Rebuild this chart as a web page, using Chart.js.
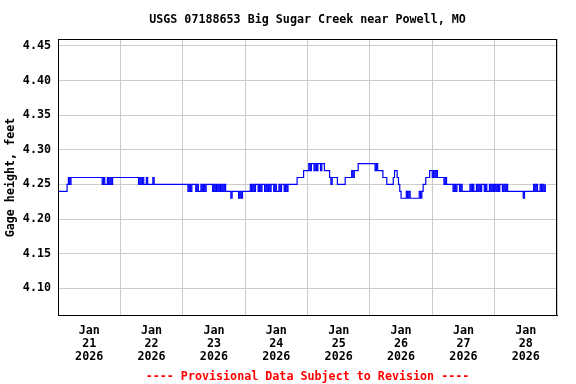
<!DOCTYPE html>
<html>
<head>
<meta charset="utf-8">
<script src="https://cdn.jsdelivr.net/npm/chart.js@4/dist/chart.umd.min.js"></script>
<style>
  body { margin: 0; background: #fff; }
  #wrap { width: 576px; height: 384px; }
</style>
</head>
<body>
<div id="wrap"><canvas id="chart1"></canvas></div>
<script>
// Gage height, feet, every 30 minutes from Jan 21 00:00 (one array per day)
const jan21 = [4.24,4.24,4.24,4.24,4.24,4.24,4.24,4.25,4.26,4.25,
  4.26,4.26,4.26,4.26,4.26,4.26,4.26,4.26,4.26,4.26,4.26,4.26,4.26,4.26,4.26,4.26,4.26,4.26,4.26,4.26,4.26,4.26,4.26,4.26,
  4.25,4.26,4.25,4.25,4.26,4.25,4.26,4.25,
  4.26,4.26,4.26,4.26,4.26,4.26];
const jan22 = [4.26,4.26,4.26,4.26,4.26,4.26,4.26,4.26,4.26,4.26,4.26,4.26,4.26,4.26,
  4.25,4.26,4.25,4.26,4.25,4.25,4.26,4.25,
  4.25,4.25,4.25,4.26,
  4.25,4.25,4.25,4.25,4.25,4.25,4.25,4.25,4.25,4.25,4.25,4.25,4.25,4.25,4.25,4.25,4.25,4.25,4.25,4.25,4.25,4.25];
const jan23 = [4.25,4.25,4.25,4.25,
  4.24,4.25,4.24,4.25,4.25,4.25,4.24,4.25,4.24,4.24,4.25,4.24,4.25,4.24,4.25,4.25,4.25,4.25,4.25,4.24,4.25,4.24,4.25,4.24,4.25,4.24,4.25,4.24,4.25,
  4.24,4.24,4.24,4.24,4.23,4.24,4.24,4.24,4.24,4.24,4.23,4.24,4.23,4.24,4.24];
const jan24 = [4.24,4.24,4.24,4.24,
  4.25,4.24,4.25,4.24,4.25,4.25,4.24,4.25,4.24,4.25,4.25,4.24,4.25,4.24,4.25,4.24,4.25,4.25,4.24,4.25,4.24,4.24,4.25,4.24,4.25,4.25,4.24,4.25,4.24,
  4.25,4.25,4.25,4.25,4.25,4.25,4.25,
  4.26,4.26,4.26,4.26,4.26,
  4.27,4.27,4.27];
const jan25 = [4.27,4.28,4.27,4.28,4.28,4.27,4.28,4.27,4.28,4.28,4.27,4.28,4.28,
  4.27,4.27,4.27,4.27,4.26,4.25,4.26,4.26,4.26,4.26,
  4.25,4.25,4.25,4.25,4.25,4.25,
  4.26,4.26,4.26,4.26,4.26,
  4.27,4.26,4.27,4.27,4.27,
  4.28,4.28,4.28,4.28,4.28,4.28,4.28,4.28,4.28];
const jan26 = [4.28,4.28,4.28,4.28,4.27,4.28,4.27,4.27,4.27,4.27,
  4.26,4.26,4.26,4.25,4.25,4.25,4.25,4.25,
  4.26,4.27,4.27,4.26,4.25,4.24,
  4.23,4.23,4.23,4.23,4.24,4.23,4.24,
  4.23,4.23,4.23,4.23,4.23,4.23,4.23,
  4.24,4.23,4.24,4.25,4.25,4.26,4.26,4.26,4.27,4.27];
const jan27 = [4.26,4.27,4.26,4.27,
  4.26,4.26,4.26,4.26,4.26,
  4.25,4.26,4.25,4.25,4.25,4.25,4.25,
  4.24,4.25,4.24,4.25,4.25,4.24,4.25,
  4.24,4.24,4.24,4.24,4.24,4.24,
  4.25,4.24,4.25,4.24,4.24,4.25,4.24,4.25,4.24,4.25,4.25,4.24,4.25,4.24,4.24,4.25,4.24,4.25,4.24];
const jan28 = [4.25,4.24,4.25,4.24,4.25,4.25,4.24,4.25,4.24,4.25,4.24,
  4.24,4.24,4.24,4.24,4.24,4.24,4.24,4.24,4.24,4.24,4.24,
  4.23,
  4.24,4.24,4.24,4.24,4.24,4.24,4.24,
  4.25,4.24,4.25,4.24,4.24,4.25,4.24,4.25,4.24,4.25];

const days = [jan21, jan22, jan23, jan24, jan25, jan26, jan27, jan28];
const dayLabels = ['21', '22', '23', '24', '25', '26', '27', '28'];
const monthLabel = 'Jan';
const yearLabel = '2026';
const yTicks = [4.10, 4.15, 4.20, 4.25, 4.30, 4.35, 4.40, 4.45];

// x = hours since Jan 21 00:00
const points = [];
days.forEach(function (vals, d) {
  vals.forEach(function (v, i) {
    points.push({ x: d * 24 + i * 0.5, y: v });
  });
});

const xTicks = [];
for (let h = 0; h <= 192; h += 12) xTicks.push(h);

const monoFont = { family: "'DejaVu Sans Mono', monospace", size: 11.7, weight: 'bold' };

// full black frame around the plot
const frame = {
  id: 'frame',
  afterDatasetsDraw: function (chart) {
    const a = chart.chartArea;
    const c = chart.ctx;
    c.save();
    c.strokeStyle = '#000';
    c.lineWidth = 1;
    c.strokeRect(Math.round(a.left) + 0.5, Math.round(a.top) + 0.5,
      Math.round(a.right - a.left) - 1, Math.round(a.bottom - a.top) - 1);
    c.restore();
  }
};

const config1 = {
  type: 'line',
  data: {
    datasets: [{
      data: points,
      borderColor: '#0000ff',
      borderWidth: 1.2,
      stepped: true,
      pointRadius: 0,
      fill: false
    }]
  },
  options: {
    responsive: true,
    maintainAspectRatio: false,
    animation: false,
    color: '#000',
    layout: { padding: { top: 0, right: 19, bottom: 0, left: 0 } },
    plugins: {
      legend: { display: false },
      tooltip: { enabled: false },
      title: {
        display: true,
        text: 'USGS 07188653 Big Sugar Creek near Powell, MO',
        color: '#000',
        font: monoFont,
        fullSize: false,
        padding: { top: 13, bottom: 12 }
      },
      subtitle: {
        display: true,
        position: 'bottom',
        text: '---- Provisional Data Subject to Revision ----',
        color: '#ff0000',
        font: monoFont,
        fullSize: false,
        padding: { top: 0, bottom: 0 }
      }
    },
    scales: {
      x: {
        type: 'linear',
        min: 0,
        max: 192,
        afterBuildTicks: function (scale) {
          scale.ticks = xTicks.map(function (v) { return { value: v }; });
        },
        afterFit: function (scale) { scale.height = 54; },
        border: { display: true, color: '#000' },
        grid: {
          drawTicks: false,
          color: function (ctx) {
            return ctx.tick && ctx.tick.value % 24 === 0 ? '#cccccc' : 'rgba(0,0,0,0)';
          }
        },
        ticks: {
          autoSkip: false,
          maxRotation: 0,
          padding: 8,
          color: '#000',
          font: Object.assign({ lineHeight: 1.14 }, monoFont),
          callback: function (value) {
            if (value % 24 !== 12) return '';
            return [monthLabel, dayLabels[Math.floor(value / 24)], yearLabel];
          }
        }
      },
      y: {
        min: 4.06,
        max: 4.46,
        afterBuildTicks: function (scale) {
          scale.ticks = yTicks.map(function (v) { return { value: v }; });
        },
        afterFit: function (scale) { scale.width = 58; },
        border: { display: true, color: '#000' },
        grid: { drawTicks: false, color: '#cccccc' },
        ticks: {
          padding: 7,
          color: '#000',
          font: monoFont,
          callback: function (value) { return value.toFixed(2); }
        },
        title: {
          display: true,
          text: 'Gage height, feet',
          color: '#000',
          font: monoFont,
          padding: { top: 4, bottom: 0 }
        }
      }
    }
  },
  plugins: [frame]
};

var ctx1 = document.getElementById('chart1').getContext('2d');
var myChart1 = new Chart(ctx1, config1);
</script>
</body>
</html>
